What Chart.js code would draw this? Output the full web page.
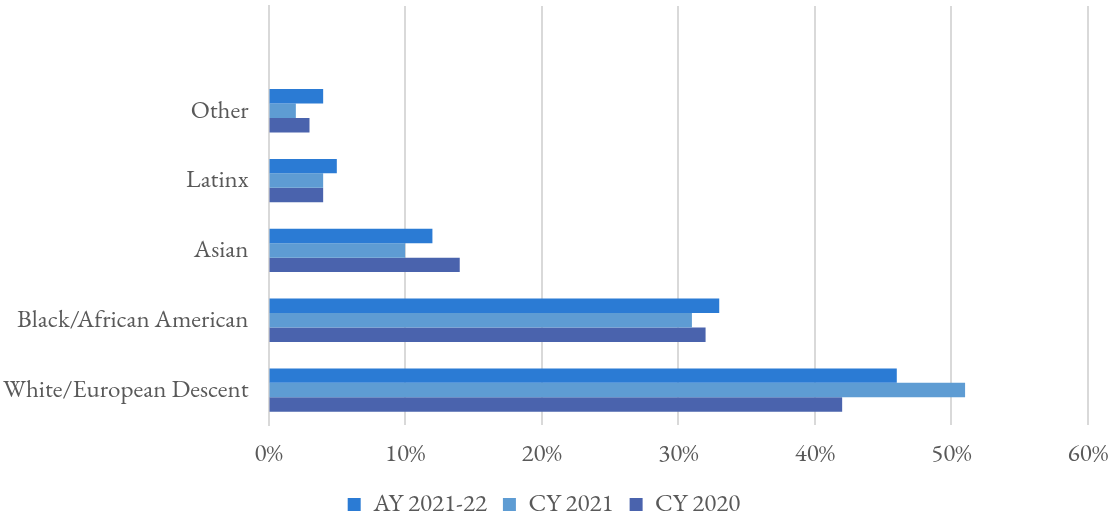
<!DOCTYPE html>
<html>
<head>
<meta charset="utf-8">
<script src="https://cdn.jsdelivr.net/npm/chart.js@4"></script>
<style>
html,body{margin:0;padding:0;background:#fff;}
#wrap{width:1118px;height:518px;position:relative;}
</style>
</head>
<body>
<div id="wrap"><canvas id="c" width="1118" height="518"></canvas></div>
<script>
const categories = ['', 'Other', 'Latinx', 'Asian', 'Black/African American', 'White/European Descent'];
const seriesNames = ['AY 2021-22', 'CY 2021', 'CY 2020'];
const ay2122 = [null, 4, 5, 12, 33, 46];
const cy2021 = [null, 2, 4, 10, 31, 51];
const cy2020 = [null, 3, 4, 14, 32, 42];
const xTicks = [0, 10, 20, 30, 40, 50, 60];
const colors = ['#2B7BD4', '#5E9CD3', '#4A63AD'];

const font = {family: '"EB Garamond", Garamond, "Liberation Serif", serif', size: 25};
const chart = new Chart(document.getElementById('c'), {
  type: 'bar',
  data: {
    labels: categories,
    datasets: [
      {label: seriesNames[0], data: ay2122, backgroundColor: colors[0]},
      {label: seriesNames[1], data: cy2021, backgroundColor: colors[1]},
      {label: seriesNames[2], data: cy2020, backgroundColor: colors[2]}
    ]
  },
  options: {
    indexAxis: 'y',
    responsive: false,
    animation: false,
    datasets: {bar: {categoryPercentage: 0.62, barPercentage: 1.0}},
    layout: {padding: {top: 6, right: 30, left: 0, bottom: -9}},
    scales: {
      x: {
        min: 0, max: 60,
        afterBuildTicks: (s) => { s.ticks = xTicks.map(v => ({value: v})); },
        grid: {color: '#D9D9D9', lineWidth: 2, drawTicks: false},
        border: {display: false},
        ticks: {color: '#595959', font: font, padding: 14, callback: v => v + '%'},
        afterFit: (s) => { s.height -= 7; s.paddingRight = 0; s.paddingLeft = 0; }
      },
      y: {
        grid: {display: false, drawTicks: false},
        border: {display: true, color: '#D9D9D9', width: 2},
        ticks: {color: '#595959', font: font, padding: 20},
        afterFit: (s) => { s.paddingTop = 0; s.paddingBottom = 0; s.width -= 17; }
      }
    },
    plugins: {
      legend: {
        position: 'bottom',
        labels: {color: '#595959', font: font, boxWidth: 13, boxHeight: 13, padding: 16, useBorderRadius: false}
      },
      tooltip: {enabled: false}
    }
  }
});
</script>
</body>
</html>
